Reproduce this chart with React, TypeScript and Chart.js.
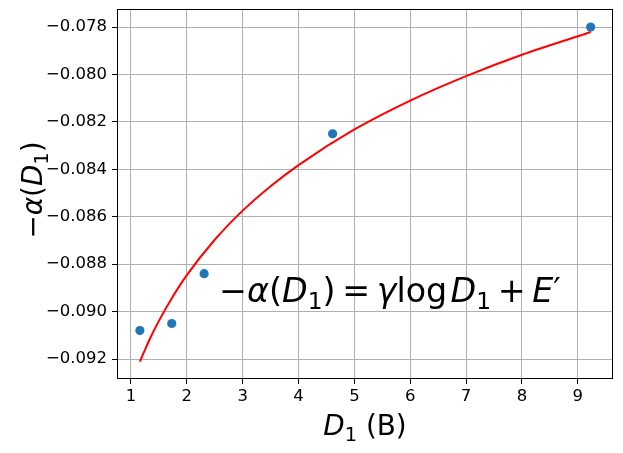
import React, { useEffect, useRef } from "react";
import { Chart, registerables } from "chart.js";

Chart.register(...registerables);

// Observed points
const obsX = [1.16, 1.73, 2.31, 4.61, 9.23];
const obsY = [-0.0908, -0.0905, -0.0884, -0.0825, -0.0780];

// Fitted curve
const fitX = [1.16, 1.25, 1.35, 1.5, 1.75, 2, 2.5, 3, 3.5, 4, 5, 6, 7, 8, 9.23];
const fitY = [-0.09211, -0.09161, -0.09109, -0.09039, -0.08936, -0.08846, -0.08697, -0.08574, -0.08471, -0.08382, -0.08232, -0.0811, -0.08007, -0.07917, -0.07821];

// Tick labels
const xTicks = [1, 2, 3, 4, 5, 6, 7, 8, 9];
const yTicks = [-0.092, -0.09, -0.088, -0.086, -0.084, -0.082, -0.08, -0.078];

const FONT = '"DejaVu Sans", sans-serif';

type Seg = { t?: string; it?: boolean; sub?: boolean; gap?: number };

function segFont(s: Seg, size: number) {
  const sz = s.sub ? size * 0.7 : size;
  return `${s.it ? "italic " : ""}${sz}px ${FONT}`;
}

function drawRich(ctx: CanvasRenderingContext2D, segs: Seg[], x: number, y: number, size: number, align: number) {
  let total = 0;
  const widths: number[] = [];
  for (const s of segs) {
    if (s.gap !== undefined) {
      widths.push(s.gap * size);
    } else {
      ctx.font = segFont(s, size);
      widths.push(ctx.measureText(s.t || "").width);
    }
    total += widths[widths.length - 1];
  }
  let cx = x - total * align;
  ctx.textAlign = "left";
  ctx.textBaseline = "alphabetic";
  ctx.fillStyle = "#000";
  segs.forEach((s, i) => {
    if (s.gap === undefined) {
      ctx.font = segFont(s, size);
      ctx.fillText(s.t || "", cx, y + (s.sub ? size * 0.2 : 0));
    }
    cx += widths[i];
  });
}

const yLabelSegs: Seg[] = [
  { t: "\u2212" }, { t: "\u03b1", it: true }, { t: "(" }, { t: "D", it: true }, { t: "1", sub: true }, { t: ")" },
];
const xLabelSegs: Seg[] = [{ t: "D", it: true }, { t: "1", sub: true }, { t: " (B)" }];
const annSegs: Seg[] = [
  { t: "\u2212" }, { t: "\u03b1", it: true }, { t: "(" }, { t: "D", it: true }, { t: "1", sub: true }, { t: ")" },
  { gap: 0.2 }, { t: "=" }, { gap: 0.2 },
  { t: "\u03b3", it: true }, { t: "log" }, { gap: 0.1 }, { t: "D", it: true }, { t: "1", sub: true },
  { gap: 0.2 }, { t: "+" }, { gap: 0.2 }, { t: "E", it: true }, { t: "\u2032" },
];

const ANN_X = 2.58;
const ANN_Y = -0.0896;

const decor = {
  id: "decor",
  afterDraw(chart: any) {
    const ctx: CanvasRenderingContext2D = chart.ctx;
    const a = chart.chartArea;
    ctx.save();
    ctx.strokeStyle = "#000";
    ctx.lineWidth = 1;
    ctx.strokeRect(Math.round(a.left) + 0.5, Math.round(a.top) + 0.5, Math.round(a.right - a.left) - 1, Math.round(a.bottom - a.top) - 1);
    // annotation
    const px = chart.scales.x.getPixelForValue(ANN_X);
    const py = chart.scales.y.getPixelForValue(ANN_Y);
    drawRich(ctx, annSegs, px, py, 33.3, 0);
    // x label
    drawRich(ctx, xLabelSegs, (a.left + a.right) / 2, 435, 27.8, 0.5);
    // y label
    ctx.translate(42, (a.top + a.bottom) / 2 - 4);
    ctx.rotate(-Math.PI / 2);
    drawRich(ctx, yLabelSegs, 0, 0, 27.8, 0.5);
    ctx.restore();
  },
};

export default function App() {
  const ref = useRef<HTMLCanvasElement>(null);
  useEffect(() => {
    if (!ref.current) return;
    const chart = new Chart(ref.current, {
      type: "scatter",
      data: {
        datasets: [
          {
            data: fitX.map((x, i) => ({ x, y: fitY[i] })),
            showLine: true,
            borderColor: "red",
            borderWidth: 2,
            pointRadius: 0,
            cubicInterpolationMode: "monotone",
          } as any,
          {
            data: obsX.map((x, i) => ({ x, y: obsY[i] })),
            backgroundColor: "#1f77b4",
            borderWidth: 0,
            pointRadius: 4.6,
          },
        ],
      },
      options: {
        responsive: false,
        animation: false,
        layout: { padding: { top: 9, right: 10, left: 0, bottom: 0 } },
        plugins: { legend: { display: false }, tooltip: { enabled: false } },
        scales: {
          x: {
            type: "linear",
            min: 0.75,
            max: 9.63,
            afterBuildTicks: (s: any) => { s.ticks = xTicks.map((v) => ({ value: v })); },
            afterFit: (s: any) => { s.height = 74; s.paddingLeft = 0; s.paddingRight = 0; },
            border: { display: false },
            grid: { color: "#b0b0b0", lineWidth: 1, tickColor: "#000", tickLength: 5 },
            ticks: { color: "#000", font: { family: FONT, size: 16.5 }, padding: 3, maxRotation: 0, autoSkip: false, callback: (v: any) => String(v) },
          },
          y: {
            type: "linear",
            min: -0.09284,
            max: -0.07724,
            afterBuildTicks: (s: any) => { s.ticks = yTicks.map((v) => ({ value: v })); },
            afterFit: (s: any) => { s.width = 117; s.paddingTop = 0; s.paddingBottom = 0; },
            border: { display: false },
            grid: { color: "#b0b0b0", lineWidth: 1, tickColor: "#000", tickLength: 5 },
            ticks: { color: "#000", font: { family: FONT, size: 16.5 }, padding: 5, autoSkip: false, callback: (v: any) => Number(v).toFixed(3).replace("-", "\u2212") },
          },
        },
      },
      plugins: [decor],
    });
    return () => chart.destroy();
  }, []);
  return (
    <div style={{ position: "absolute", left: 0, top: 0, width: 623, height: 453, background: "#fff" }}>
      <canvas ref={ref} width={623} height={453} />
    </div>
  );
}
